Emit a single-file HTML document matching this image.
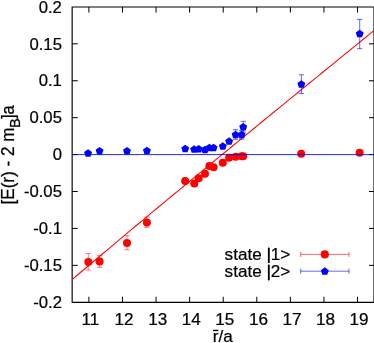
<!DOCTYPE html><html><head><meta charset="utf-8"><style>html,body{margin:0;padding:0;background:#fff;overflow:hidden}svg{display:block;will-change:transform;opacity:0.9999}text{font-family:"Liberation Sans",sans-serif;fill:#000;stroke:#000;stroke-width:0.22px}</style></head><body>
<svg width="374" height="343" viewBox="0 0 374 343">
<rect width="374" height="343" fill="#fff"/>
<path d="M72.15 7.0H374.4M72.15 302.35H374.4M72.15 6.5V302.85M374.0 6.5V302.85" stroke="#000" stroke-width="1.15" fill="none"/>
<path d="M88.89 302.35v-5.6M88.89 7.0v5.6M122.47 302.35v-5.6M122.47 7.0v5.6M156.05 302.35v-5.6M156.05 7.0v5.6M189.63 302.35v-5.6M189.63 7.0v5.6M223.21 302.35v-5.6M223.21 7.0v5.6M256.79 302.35v-5.6M256.79 7.0v5.6M290.37 302.35v-5.6M290.37 7.0v5.6M323.95 302.35v-5.6M323.95 7.0v5.6M357.53 302.35v-5.6M357.53 7.0v5.6M72.15 265.36h5.6M374.0 265.36h-5.0M72.15 228.44h5.6M374.0 228.44h-5.0M72.15 191.52h5.6M374.0 191.52h-5.0M72.15 154.60h5.6M374.0 154.60h-5.0M72.15 117.68h5.6M374.0 117.68h-5.0M72.15 80.76h5.6M374.0 80.76h-5.0M72.15 43.84h5.6M374.0 43.84h-5.0" stroke="#000" stroke-width="1" fill="none"/>
<polyline points="72.15,279.53 77.18,275.26 82.21,270.99 87.24,266.74 92.27,262.49 97.30,258.24 102.34,254.01 107.37,249.78 112.40,245.55 117.43,241.33 122.46,237.12 127.49,232.91 132.52,228.71 137.55,224.51 142.58,220.32 147.61,216.13 152.64,211.94 157.67,207.76 162.71,203.59 167.74,199.41 172.77,195.25 177.80,191.08 182.83,186.92 187.86,182.76 192.89,178.61 197.92,174.46 202.95,170.31 207.98,166.16 213.01,162.02 218.04,157.88 223.08,153.74 228.11,149.61 233.14,145.48 238.17,141.35 243.20,137.22 248.23,133.10 253.26,128.98 258.29,124.86 263.32,120.74 268.35,116.63 273.38,112.52 278.41,108.40 283.45,104.30 288.48,100.19 293.51,96.08 298.54,91.98 303.57,87.88 308.60,83.78 313.63,79.68 318.66,75.59 323.69,71.49 328.72,67.40 333.75,63.31 338.78,59.21 343.82,55.13 348.85,51.04 353.88,46.95 358.91,42.87 363.94,38.78 368.97,34.70 374.00,30.62" stroke="#ff0000" stroke-width="1.05" fill="none"/>
<text x="90.49" y="325" font-size="17.1" text-anchor="middle">11</text>
<text x="124.07" y="325" font-size="17.1" text-anchor="middle">12</text>
<text x="157.65" y="325" font-size="17.1" text-anchor="middle">13</text>
<text x="191.23" y="325" font-size="17.1" text-anchor="middle">14</text>
<text x="224.81" y="325" font-size="17.1" text-anchor="middle">15</text>
<text x="258.39" y="325" font-size="17.1" text-anchor="middle">16</text>
<text x="291.97" y="325" font-size="17.1" text-anchor="middle">17</text>
<text x="325.55" y="325" font-size="17.1" text-anchor="middle">18</text>
<text x="359.13" y="325" font-size="17.1" text-anchor="middle">19</text>
<text transform="translate(61.9,12.62) scale(0.975,1)" font-size="17.1" text-anchor="end">0.2</text>
<text transform="translate(61.9,49.54) scale(0.975,1)" font-size="17.1" text-anchor="end">0.15</text>
<text transform="translate(61.9,86.46) scale(0.975,1)" font-size="17.1" text-anchor="end">0.1</text>
<text transform="translate(61.9,123.38) scale(0.975,1)" font-size="17.1" text-anchor="end">0.05</text>
<text transform="translate(61.9,160.30) scale(0.975,1)" font-size="17.1" text-anchor="end">0</text>
<text transform="translate(61.9,197.22) scale(0.975,1)" font-size="17.1" text-anchor="end">-0.05</text>
<text transform="translate(61.9,234.14) scale(0.975,1)" font-size="17.1" text-anchor="end">-0.1</text>
<text transform="translate(61.9,271.06) scale(0.975,1)" font-size="17.1" text-anchor="end">-0.15</text>
<text transform="translate(61.9,307.98) scale(0.975,1)" font-size="17.1" text-anchor="end">-0.2</text>
<text transform="translate(13.9,204.5) rotate(-90) scale(1,1.06)" font-size="17.1">[E(r) - 2 m</text>
<text transform="translate(19.8,128.0) rotate(-90) scale(1,1.06)" font-size="14.5">B</text>
<text transform="translate(13.9,119.0) rotate(-90) scale(0.96,1.06)" font-size="17.1">]a</text>
<text x="212.7" y="341.7" font-size="17.1">r/a</text>
<line x1="213.1" y1="330.45" x2="218.4" y2="330.45" stroke="#000" stroke-width="1.4"/>
<text x="224.6" y="259.8" font-size="17.1">state |1&gt;</text>
<text x="224.6" y="276.8" font-size="17.1">state |2&gt;</text>
<path d="M268.7 247.5V263M268.7 264.5V280.4" stroke="#000" stroke-width="1.4" fill="none"/>
<path d="M300.7 254.4H349.0M300.7 251.8v5.2M349.0 251.8v5.2" stroke="#ff0000" stroke-width="0.6" fill="none"/>
<path d="M300.7 271.2H349.0M300.7 268.59999999999997v5.2M349.0 268.59999999999997v5.2" stroke="#0000ff" stroke-width="0.6" fill="none"/>
<path d="M88.3 253.45V270.05M85.6 253.45h5.4M85.6 270.05h5.4" stroke="#ff0000" stroke-width="0.5" fill="none"/>
<path d="M99.6 255.55V267.35M96.89999999999999 255.55h5.4M96.89999999999999 267.35h5.4" stroke="#ff0000" stroke-width="0.5" fill="none"/>
<path d="M127.0 235.65V249.75M124.3 235.65h5.4M124.3 249.75h5.4" stroke="#ff0000" stroke-width="0.5" fill="none"/>
<path d="M146.9 217.05V227.35M144.20000000000002 217.05h5.4M144.20000000000002 227.35h5.4" stroke="#ff0000" stroke-width="0.5" fill="none"/>
<path d="M235.6 129.7V139.4M232.9 129.7h5.4M232.9 139.4h5.4" stroke="#0000ff" stroke-width="0.6" fill="none"/>
<path d="M241.6 130.7V139.1M238.9 130.7h5.4M238.9 139.1h5.4" stroke="#0000ff" stroke-width="0.6" fill="none"/>
<path d="M243.2 121.3V132.1M240.5 121.3h5.4M240.5 132.1h5.4" stroke="#0000ff" stroke-width="0.6" fill="none"/>
<path d="M301.4 74.8V93.6M298.7 74.8h5.4M298.7 93.6h5.4" stroke="#0000ff" stroke-width="0.6" fill="none"/>
<path d="M359.7 19.400000000000002V48.7M357.0 19.400000000000002h5.4M357.0 48.7h5.4" stroke="#0000ff" stroke-width="0.6" fill="none"/>
<circle cx="88.3" cy="262.05" r="4.0" fill="#ff0000"/>
<circle cx="99.6" cy="261.55" r="4.0" fill="#ff0000"/>
<circle cx="127.0" cy="242.95" r="4.0" fill="#ff0000"/>
<circle cx="146.9" cy="222.55" r="4.0" fill="#ff0000"/>
<circle cx="185.2" cy="181.05" r="4.0" fill="#ff0000"/>
<circle cx="194.3" cy="183.55" r="4.0" fill="#ff0000"/>
<circle cx="198.7" cy="178.15" r="4.0" fill="#ff0000"/>
<circle cx="205.0" cy="173.85" r="4.0" fill="#ff0000"/>
<circle cx="209.4" cy="165.95" r="4.0" fill="#ff0000"/>
<circle cx="213.6" cy="167.25" r="4.0" fill="#ff0000"/>
<circle cx="222.8" cy="162.75" r="4.0" fill="#ff0000"/>
<circle cx="229.1" cy="157.85" r="4.0" fill="#ff0000"/>
<circle cx="235.6" cy="156.85" r="4.0" fill="#ff0000"/>
<circle cx="241.6" cy="156.35" r="4.0" fill="#ff0000"/>
<circle cx="243.2" cy="156.35" r="4.0" fill="#ff0000"/>
<circle cx="301.2" cy="153.85" r="4.0" fill="#ff0000"/>
<circle cx="359.6" cy="152.75" r="4.0" fill="#ff0000"/>
<polygon points="88.10,149.15 92.05,152.02 90.54,156.66 85.66,156.66 84.15,152.02" fill="#0000ff"/>
<polygon points="99.60,146.95 103.55,149.82 102.04,154.46 97.16,154.46 95.65,149.82" fill="#0000ff"/>
<polygon points="127.00,146.95 130.95,149.82 129.44,154.46 124.56,154.46 123.05,149.82" fill="#0000ff"/>
<polygon points="146.90,146.65 150.85,149.52 149.34,154.16 144.46,154.16 142.95,149.52" fill="#0000ff"/>
<polygon points="185.20,144.65 189.15,147.52 187.64,152.16 182.76,152.16 181.25,147.52" fill="#0000ff"/>
<polygon points="194.10,145.35 198.05,148.22 196.54,152.86 191.66,152.86 190.15,148.22" fill="#0000ff"/>
<polygon points="198.70,144.95 202.65,147.82 201.14,152.46 196.26,152.46 194.75,147.82" fill="#0000ff"/>
<polygon points="205.00,145.65 208.95,148.52 207.44,153.16 202.56,153.16 201.05,148.52" fill="#0000ff"/>
<polygon points="209.40,143.65 213.35,146.52 211.84,151.16 206.96,151.16 205.45,146.52" fill="#0000ff"/>
<polygon points="213.60,143.65 217.55,146.52 216.04,151.16 211.16,151.16 209.65,146.52" fill="#0000ff"/>
<polygon points="222.80,142.15 226.75,145.02 225.24,149.66 220.36,149.66 218.85,145.02" fill="#0000ff"/>
<polygon points="229.10,137.35 233.05,140.22 231.54,144.86 226.66,144.86 225.15,140.22" fill="#0000ff"/>
<polygon points="235.60,130.75 239.55,133.62 238.04,138.26 233.16,138.26 231.65,133.62" fill="#0000ff"/>
<polygon points="241.60,130.75 245.55,133.62 244.04,138.26 239.16,138.26 237.65,133.62" fill="#0000ff"/>
<polygon points="243.20,122.95 247.15,125.82 245.64,130.46 240.76,130.46 239.25,125.82" fill="#0000ff"/>
<polygon points="301.40,80.15 305.35,83.02 303.84,87.66 298.96,87.66 297.45,83.02" fill="#0000ff"/>
<polygon points="359.70,29.65 363.65,32.52 362.14,37.16 357.26,37.16 355.75,32.52" fill="#0000ff"/>
<line x1="72.15" y1="154.6" x2="374.0" y2="154.6" stroke="#0000ff" stroke-width="0.85"/>
<circle cx="324.8" cy="254.4" r="4.1" fill="#ff0000"/>
<polygon points="324.80,267.35 328.75,270.22 327.24,274.86 322.36,274.86 320.85,270.22" fill="#0000ff"/>
</svg></body></html>
